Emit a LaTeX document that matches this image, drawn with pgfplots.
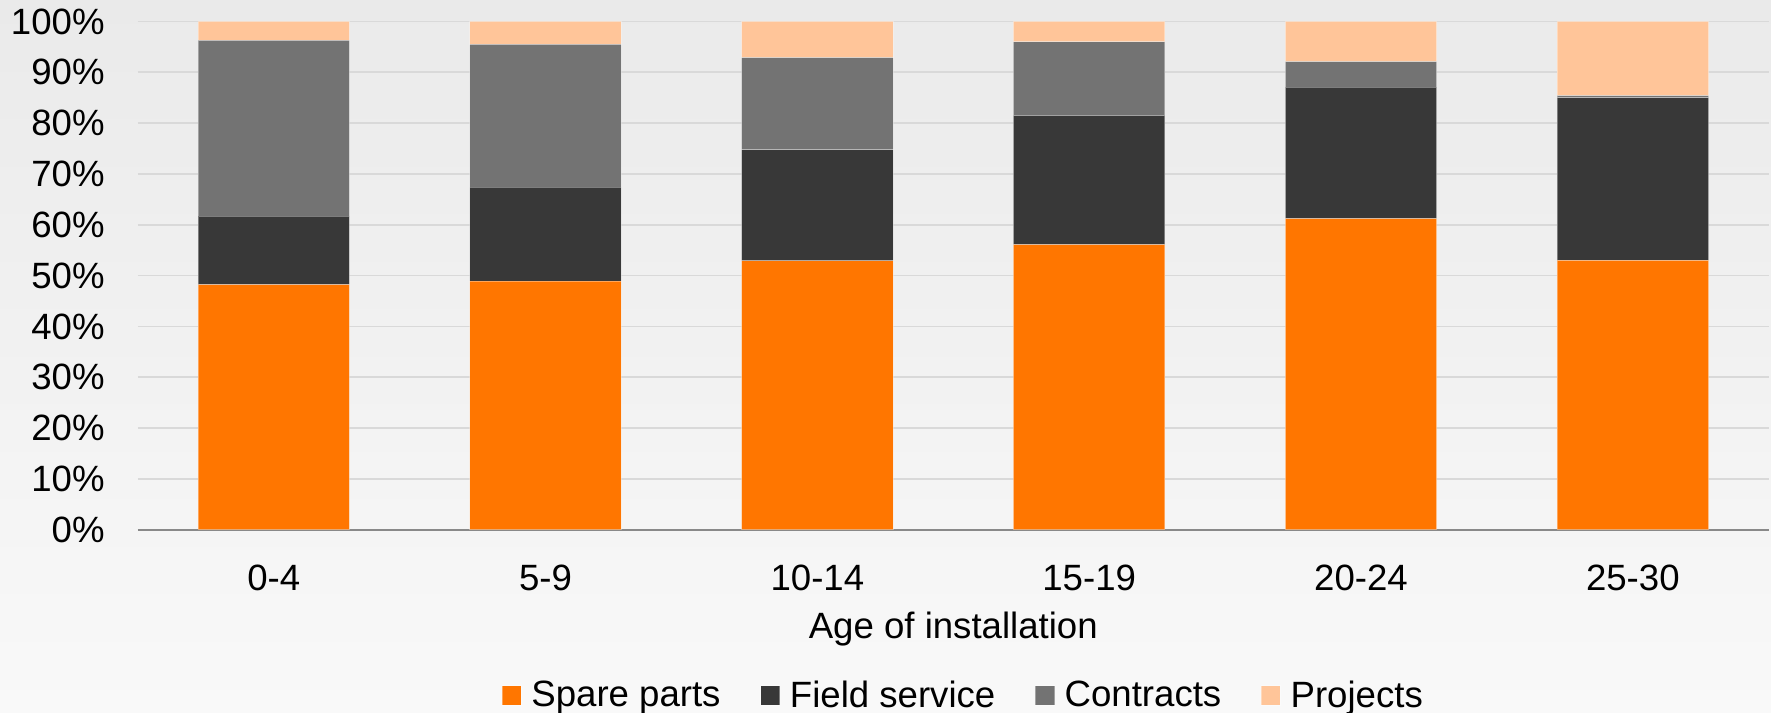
\documentclass[border=0pt]{standalone}
\usepackage{pgfplots}
\pgfplotsset{compat=1.18}
\usepackage{fontspec}
\setmainfont{Liberation Sans}

\definecolor{spare}{RGB}{255,118,0}
\definecolor{field}{RGB}{56,56,56}
\definecolor{contract}{RGB}{115,115,115}
\definecolor{project}{RGB}{255,197,153}
\definecolor{gridgray}{RGB}{217,217,217}
\definecolor{axisgray}{RGB}{137,137,137}
\definecolor{bgtop}{RGB}{234,234,234}
\definecolor{bgbottom}{RGB}{249,249,249}

\newcommand{\chartfont}{\fontsize{16.2}{19}\selectfont}

\begin{document}
\begin{tikzpicture}
% chart background
\shade[top color=bgtop, bottom color=bgbottom] (-61pt,-81pt) rectangle (723pt,234.5pt);

\begin{axis}[
  at={(0pt,0pt)}, anchor=south west,
  scale only axis, width=722pt, height=225pt,
  xmin=-0.5, xmax=5.5, ymin=0, ymax=100,
  ybar stacked, bar width=0.557,
  xtick={0,...,5},
  xticklabels={0-4,5-9,10-14,15-19,20-24,25-30},
  ytick={0,10,...,100},
  yticklabel={\pgfmathprintnumber{\tick}\%},
  /pgf/number format/assume math mode=true,
  major tick length=0pt,
  axis x line*=bottom, axis y line*=left,
  x axis line style={draw=axisgray, line width=1pt, -},
  y axis line style={draw=none},
  ymajorgrids, grid style={draw=gridgray, line width=0.8pt},
  tick label style={font=\chartfont, text=black},
  yticklabel style={anchor=east, inner sep=0pt, xshift=-14.5pt},
  xticklabel style={anchor=north, inner sep=0pt, yshift=-15.5pt},
  xlabel={Age of installation},
  xlabel style={font=\chartfont, at={(axis description cs:0.5,0)}, anchor=north, inner sep=0pt, yshift=-36pt},
  legend columns=4,
  legend style={draw=none, fill=none, at={(axis description cs:0.5055,0)}, anchor=center, yshift=-73.5pt,
    font=\chartfont, column sep=0pt, nodes={inner sep=0pt},
    /tikz/every even column/.append style={column sep=17.5pt}},
  legend image code/.code={\fill[#1] (0pt,-4.2pt) rectangle (8.5pt,4.4pt); \path (12.8pt,0pt);},
  every axis plot/.append style={draw=white, draw opacity=0.35, line width=0.4pt},
]
\addplot[fill=spare]    coordinates {(0,48.2) (1,48.9) (2,52.9) (3,56.1) (4,61.2) (5,53.0)};
\addplot[fill=field]    coordinates {(0,13.5) (1,18.5) (2,21.9) (3,25.4) (4,25.9) (5,32.0)};
\addplot[fill=contract] coordinates {(0,34.6) (1,28.1) (2,18.1) (3,14.5) (4,5.0) (5,0.4)};
\addplot[fill=project]  coordinates {(0,3.7) (1,4.5) (2,7.1) (3,4.0) (4,7.9) (5,14.6)};
\legend{Spare parts, Field service, Contracts, Projects}
\end{axis}

\pgfresetboundingbox
\useasboundingbox (-61pt,-81pt) rectangle (723pt,234.5pt);
\end{tikzpicture}
\end{document}
